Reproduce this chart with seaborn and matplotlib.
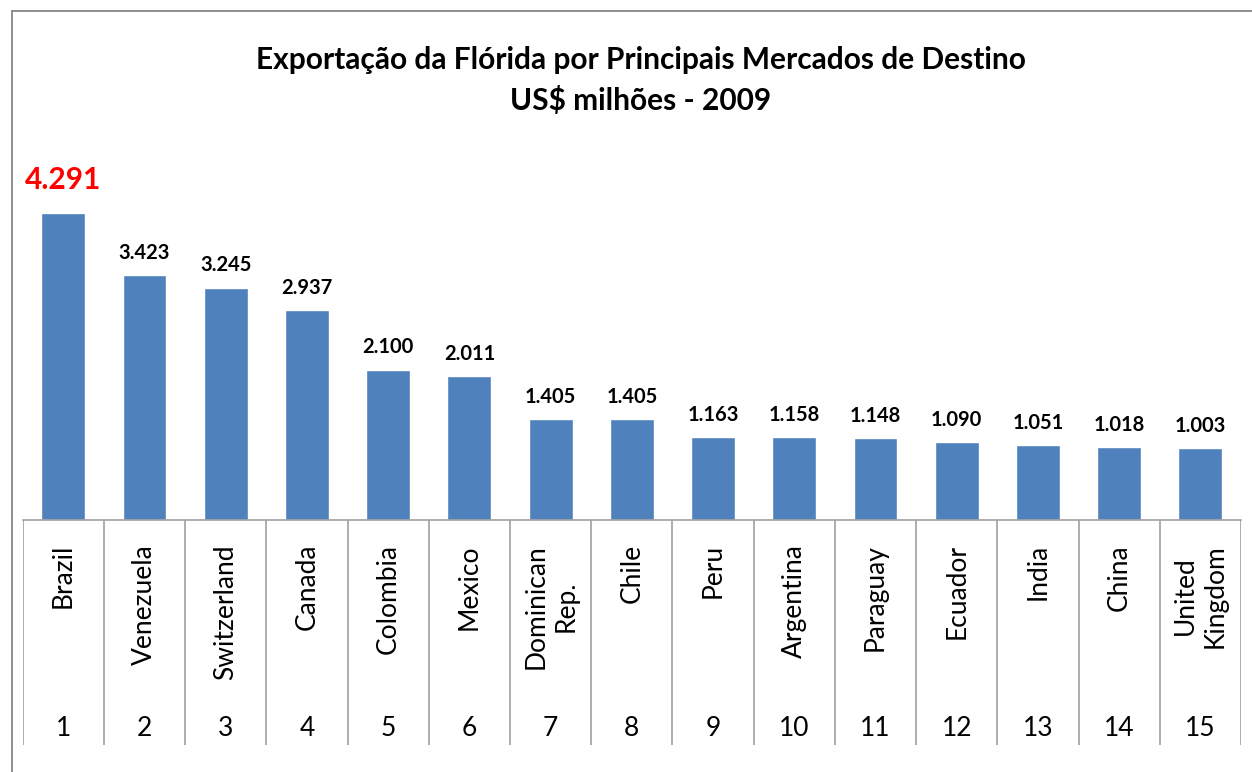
import pandas as pd
import numpy as np
import seaborn as sns
import matplotlib.pyplot as plt
from matplotlib.lines import Line2D

countries = ['Brazil', 'Venezuela', 'Switzerland', 'Canada', 'Colombia', 'Mexico',
             'Dominican\nRep.', 'Chile', 'Peru', 'Argentina', 'Paraguay', 'Ecuador',
             'India', 'China', 'United\nKingdom']
ranks = list(range(1, 16))
values = [4.291, 3.423, 3.245, 2.937, 2.100, 2.011, 1.405, 1.405, 1.163, 1.158,
          1.148, 1.090, 1.051, 1.018, 1.003]
value_labels = ['4.291', '3.423', '3.245', '2.937', '2.100', '2.011', '1.405', '1.405',
                '1.163', '1.158', '1.148', '1.090', '1.051', '1.018', '1.003']

df = pd.DataFrame({'rank': ranks, 'country': countries, 'value': values})

sns.set_style('white')
plt.rcParams['font.family'] = ['Lato', 'DejaVu Sans']

W, H = 1252, 772
fig = plt.figure(figsize=(W / 100, H / 100), dpi=100)
fig.patch.set_facecolor('white')

x0, x1 = 22.7, 1241
base_y, top_y = 520, 150
ax = fig.add_axes([x0 / W, 1 - base_y / H, (x1 - x0) / W, (base_y - top_y) / H])
sns.barplot(df, x='rank', y='value', ax=ax, color='#4F81BD', saturation=1, width=0.54)
ax.set_xlim(-0.5, 14.5)
ax.set_ylim(0, 370 / 71.6)
ax.set_xlabel('')
ax.set_ylabel('')
ax.set_xticks([])
ax.set_yticks([])
for s in ['left', 'right', 'top']:
    ax.spines[s].set_visible(False)
ax.spines['bottom'].set_color('#A0A0A0')
ax.spines['bottom'].set_linewidth(1.2)

for i, (v, lab) in enumerate(zip(values, value_labels)):
    if i == 0:
        ax.text(i, v + 0.46, lab, ha='center', va='center', color='#FF0000',
                fontsize=21.5, fontweight='bold')
    else:
        ax.text(i, v + 0.31, lab, ha='center', va='center', color='black',
                fontsize=14.5, fontweight='bold')

# category table below the axis
tb = fig.add_axes([x0 / W, 1 - 745 / H, (x1 - x0) / W, (745 - base_y) / H], sharex=ax)
tb.set_ylim(0, 1)
tb.axis('off')
for i in range(16):
    tb.axvline(i - 0.5, color='#A0A0A0', lw=1.2)
tb_h = 745 - base_y
for i, (c, r) in enumerate(zip(countries, ranks)):
    tb.text(i, 1 - (544 - base_y) / tb_h, c, rotation=90, ha='center', va='top',
            multialignment='center', fontsize=19, color='black', linespacing=1.25)
    tb.text(i, 1 - (728 - base_y) / tb_h, str(r), ha='center', va='center',
            fontsize=19, color='black')

fig.text(641 / W, 1 - 60 / H, 'Exportação da Flórida por Principais Mercados de Destino',
         ha='center', va='center', fontsize=21.5, fontweight='bold', color='black')
fig.text(641 / W, 1 - 101 / H, 'US$ milhões - 2009',
         ha='center', va='center', fontsize=21.5, fontweight='bold', color='black')

# chart border
fig.add_artist(Line2D([12 / W, 12 / W], [0, 1 - 10.5 / H], color='#868686', lw=1.3,
                      transform=fig.transFigure))
fig.add_artist(Line2D([12 / W, 1], [1 - 10.5 / H, 1 - 10.5 / H], color='#868686', lw=1.3,
                      transform=fig.transFigure))

fig.savefig('out.png', dpi=100)
